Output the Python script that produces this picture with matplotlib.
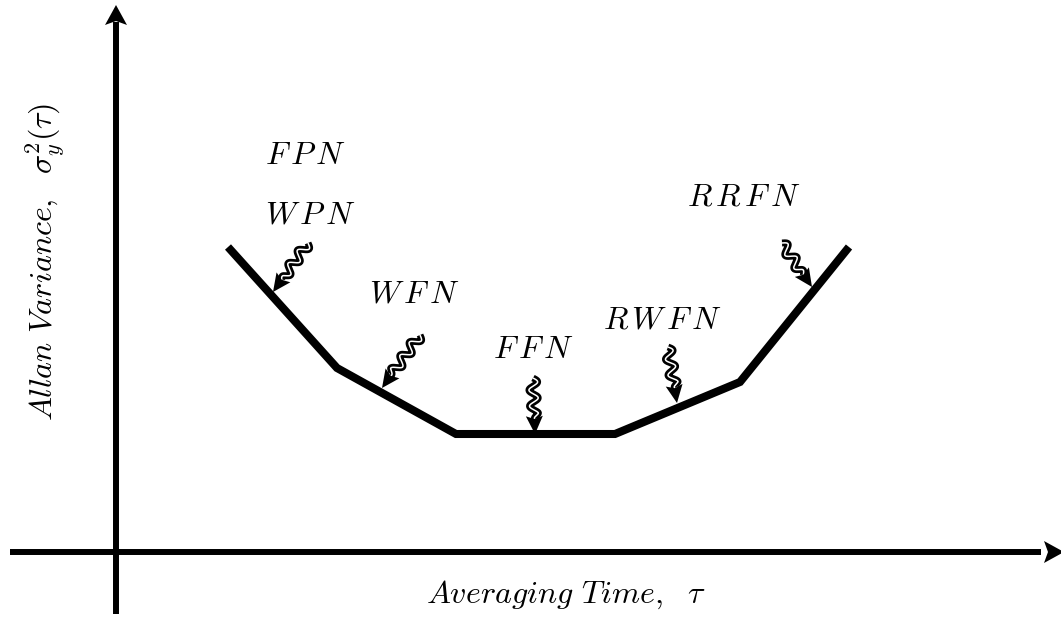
import numpy as np
import matplotlib.pyplot as plt
from matplotlib.patches import Polygon

plt.rcParams["mathtext.fontset"] = "cm"

# piecewise Allan variance sketch (pixel-like units, origin at axis crossing)
tau = [112, 221, 340, 499, 624, 733]
sigma = [305, 184, 118, 118, 170, 305]

# noise types and where their arrows start / land
noise = ["WPN", "WFN", "FFN", "RWFN", "RRFN"]
tails = [(192, 309), (304, 217), (417, 174), (552, 205), (666, 309)]
tips = [(157, 260), (266, 164), (419, 118), (561, 149), (696, 265)]
label_xy = [(194, 337), (298, 258), (417, 202), (547, 232), (628, 355)]

fig = plt.figure(figsize=(10.61, 6.18), dpi=100)
ax = fig.add_axes([0, 0, 1, 1])
ax.set_xlim(-116, 945)
ax.set_ylim(-66, 552)
ax.axis("off")


def head(ax, tip, u, length, width, notch=4):
    tip = np.array(tip, float)
    u = np.array(u, float)
    n = np.array([-u[1], u[0]])
    back = tip - u * length
    pts = [tip, back + n * width / 2, back + u * notch, back - n * width / 2]
    ax.add_patch(Polygon(pts, closed=True, color="black", lw=0, zorder=5))


# axes with arrow heads
ax.plot([0, 0], [-62, 530], color="black", lw=4.3, solid_capstyle="butt")
head(ax, (0, 547), (0, 1), 20, 22)
ax.plot([-106, 925], [0, 0], color="black", lw=4.3, solid_capstyle="butt")
head(ax, (948, 0), (1, 0), 20, 22)

ax.plot(tau, sigma, color="black", lw=5.8, solid_joinstyle="miter", solid_capstyle="butt")


def snake_arrow(ax, p0, p1, amp=4.5, wave=16.0, head_len=18, head_w=17):
    p0 = np.array(p0, float)
    p1 = np.array(p1, float)
    d = p1 - p0
    L = np.hypot(*d)
    u = d / L
    n = np.array([-u[1], u[0]])
    run = L - head_len + 3
    s = np.linspace(0, run, 200)
    env = np.clip((run - s) / 6, 0, 1)
    off = amp * np.sin(2 * np.pi * s / wave) * env
    pts = p0 + np.outer(s, u) + np.outer(off, n)
    ax.plot(pts[:, 0], pts[:, 1], color="black", lw=5.0, solid_capstyle="butt", zorder=3)
    ax.plot(pts[:, 0], pts[:, 1], color="white", lw=1.1, solid_capstyle="butt", zorder=4)
    head(ax, p1, u, head_len, head_w, notch=3)


for p0, p1 in zip(tails, tips):
    snake_arrow(ax, p0, p1)


def acronym(s):
    return "$" + r"\,".join(s) + "$"


ax.text(189, 397, acronym("FPN"), fontsize=23, ha="center", va="center")
for name, (x, y) in zip(noise, label_xy):
    ax.text(x, y, acronym(name), fontsize=23, ha="center", va="center")

ax.text(450, -43, r"$Averaging\ Time,\ \ \tau$", fontsize=23, ha="center", va="center")
ax.text(-71, 290, r"$Allan\ Variance,\ \ \sigma_y^2(\tau)$", fontsize=23, ha="center",
        va="center", rotation=90)

fig.savefig("out.png", dpi=100)
